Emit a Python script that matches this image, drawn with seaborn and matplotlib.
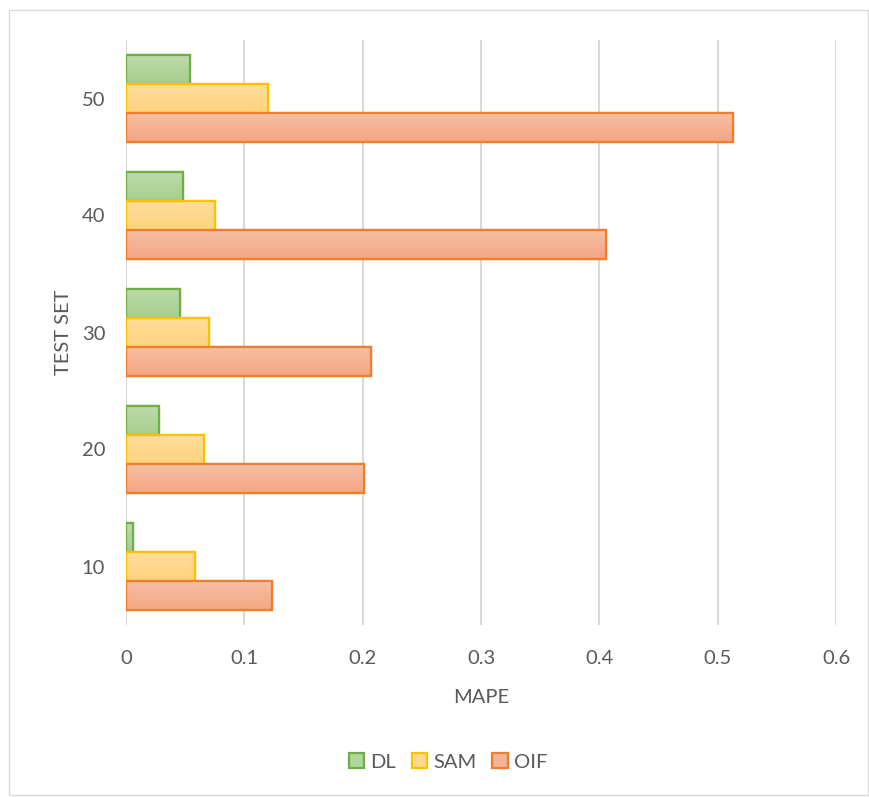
import matplotlib
matplotlib.use("Agg")
import matplotlib.pyplot as plt
import seaborn as sns
import pandas as pd
import numpy as np
from matplotlib.patches import Rectangle, Patch
from matplotlib.colors import LinearSegmentedColormap

categories = ["50", "40", "30", "20", "10"]
series = ["DL", "SAM", "OIF"]
dl = [0.054, 0.048, 0.046, 0.028, 0.006]
sam = [0.120, 0.075, 0.070, 0.066, 0.058]
oif = [0.513, 0.406, 0.207, 0.201, 0.123]
xticks = [0, 0.1, 0.2, 0.3, 0.4, 0.5, 0.6]
xticklabels = ["0", "0.1", "0.2", "0.3", "0.4", "0.5", "0.6"]

fills = {"DL": "#B0D69A", "SAM": "#FFD98C", "OIF": "#F5B394"}
grad_top = {"DL": "#BDDBAB", "SAM": "#FFDD9C", "OIF": "#F7C0A5"}
grad_bot = {"DL": "#A6CE8D", "SAM": "#FFD37E", "OIF": "#F4A683"}
edges = {"DL": "#70AD47", "SAM": "#FFC000", "OIF": "#ED7D31"}

rows = []
for name, vals in zip(series, [dl, sam, oif]):
    for c, v in zip(categories, vals):
        rows.append({"TEST SET": c, "MAPE": v, "Series": name})
df = pd.DataFrame(rows)

sns.set_theme(style="white")
plt.rcParams["font.family"] = ["Lato", "DejaVu Sans"]
text_color = "#595959"

fig = plt.figure(figsize=(8.70, 7.97), dpi=100)
ax = fig.add_axes([126 / 870, 1 - 625 / 797, (836 - 126) / 870, (625 - 40) / 797])

sns.barplot(data=df, y="TEST SET", x="MAPE", hue="Series", order=categories,
            hue_order=series, orient="h", palette=fills, width=0.75,
            legend=False, ax=ax, zorder=3)

ax.set_xlim(0, 0.6)
ax.set_ylim(4.5, -0.5)

grad = np.linspace(0, 1, 64).reshape(-1, 1)
for i, cont in enumerate(ax.containers):
    name = series[i]
    cmap = LinearSegmentedColormap.from_list(name, [grad_top[name], grad_bot[name]])
    for bar in cont:
        bar.set_edgecolor(edges[name])
        bar.set_linewidth(1.6)
        bar.set_facecolor(fills[name])
        x0, y0 = bar.get_x(), bar.get_y()
        w, h = bar.get_width(), bar.get_height()
        im = ax.imshow(grad, cmap=cmap, aspect="auto", origin="upper",
                       extent=(x0, x0 + w, y0 + h, y0), zorder=3.5,
                       interpolation="bilinear")
        im.set_clip_path(bar)
        # redraw edge on top
        edge = Rectangle((x0, y0), w, h, fill=False, edgecolor=edges[name],
                         linewidth=1.6, zorder=4)
        ax.add_patch(edge)

ax.set_xlim(0, 0.6)
ax.set_ylim(4.5, -0.5)
ax.set_xticks(xticks)
ax.set_xticklabels(xticklabels)
ax.grid(axis="x", color="#D9D9D9", linewidth=1.5, zorder=0)
ax.set_axisbelow(True)
for s in ax.spines.values():
    s.set_visible(False)
ax.tick_params(axis="both", length=0, labelsize=14.5, labelcolor=text_color)
ax.tick_params(axis="x", pad=18)
ax.tick_params(axis="y", pad=15)
ax.set_xlabel("MAPE", fontsize=14.5, color=text_color, labelpad=16)
ax.set_ylabel("TEST SET", fontsize=14.5, color=text_color, labelpad=7)

handles = [Patch(facecolor=fills[s], edgecolor=edges[s], linewidth=1.6, label=s) for s in series]
fig.legend(handles=handles, loc="center", bbox_to_anchor=(448 / 870, 1 - 762 / 797),
           ncol=3, frameon=False, fontsize=14.5, handlelength=0.75, handleheight=0.75,
           handletextpad=0.3, columnspacing=0.8, labelcolor=text_color)

fig.patches.append(Rectangle((9 / 870, 2 / 797), 859 / 870, 785 / 797,
                             transform=fig.transFigure, fill=False,
                             edgecolor="#D9D9D9", linewidth=1.0))

fig.savefig("out.png", dpi=100)
